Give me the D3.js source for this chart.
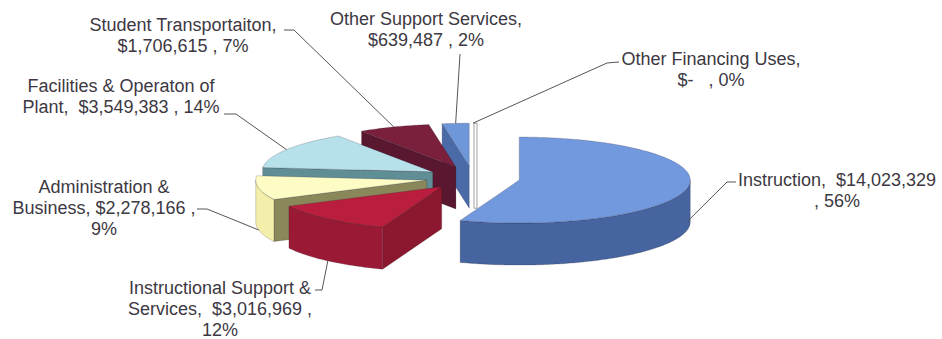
<!DOCTYPE html>
<html>
<head>
<meta charset="utf-8">
<script src="https://cdn.jsdelivr.net/npm/d3@7"></script>
<style>
  html, body { margin: 0; padding: 0; background: #fff; }
  svg { display: block; }
  text { font-family: "Liberation Sans", Arial, sans-serif; font-size: 18px; fill: #3d3842; white-space: pre; }
</style>
</head>
<body>
<svg id="chart" width="942" height="339"></svg>
<script>
// Expenditure categories, in pie order (clockwise from 12 o'clock)
const categories = [
  "Instruction",
  "Instructional Support & Services",
  "Administration & Business",
  "Facilities & Operaton of Plant",
  "Student Transportaiton",
  "Other Support Services",
  "Other Financing Uses"
];
const values = [14023329, 3016969, 2278166, 3549383, 1706615, 639487, 0];
const valueLabels = ["$14,023,329", "$3,016,969", "$2,278,166", "$3,549,383", "$1,706,615", "$639,487", "$-"];
const pctLabels = ["56%", "12%", "9%", "14%", "7%", "2%", "0%"];

// Data label text, wrapped into lines
const labelLines = [
  ["Instruction,  " + valueLabels[0], ", " + pctLabels[0]],
  ["Instructional Support &", "Services,  " + valueLabels[1] + " ,", pctLabels[1]],
  ["Administration &", "Business, " + valueLabels[2] + " ,", pctLabels[2]],
  ["Facilities & Operaton of", "Plant,  " + valueLabels[3] + " , " + pctLabels[3]],
  ["Student Transportaiton,", valueLabels[4] + " , " + pctLabels[4]],
  ["Other Support Services,", valueLabels[5] + " , " + pctLabels[5]],
  ["Other Financing Uses,", valueLabels[6] + "   , " + pctLabels[6]]
];

// Face colours: top, outer wall, radial wall
const topColors   = ["#7299de", "#b91e3e", "#fdfcc4", "#b6e1ea", "#7a1f3c", "#6e97da", "#ffffff"];
const wallColors  = ["#46649f", "#9a1a36", "#f3eeaa", "#7fb3be", "#5e1a33", "#46659f", "#ffffff"];
const sideColors  = ["#587dc0", "#8c1830", "#8a875a", "#5f8e97", "#5a1730", "#4a6aa8", "#ffffff"];

// Label layout: centre x, first baseline, leader start points, and how far down the wall the leader ends
const labelLayout = [
  { x: 837, y: 186, from: [[736, 182], [727, 182]], drop: 0.8 },
  { x: 220, y: 294, from: [[315, 290], [322, 290]], drop: 1.0 },
  { x: 104, y: 193, from: [[197, 209], [207, 209]], drop: 1.0 },
  { x: 121, y: 92,  from: [[224, 114], [236, 114]], drop: 0 },
  { x: 183, y: 31,  from: [[284, 30], [294, 30]], drop: 0 },
  { x: 426, y: 25,  from: [[460, 54]], drop: 0 },
  { x: 711, y: 65,  from: [[619, 62], [607, 63]], drop: 0 }
];

// 3-D pie geometry
const cx = 473, cy = 178, rx = 171, ry = 43, depth = 42, explode = 47;
const lineH = 21;

const svg = d3.select("#chart");

const pie = d3.pie().sort(null).value(d => d)(values);

// Project an angle (clockwise from 12 o'clock) onto the tilted ellipse
function P(a, o, z) {
  return [cx + o[0] + rx * Math.sin(a), cy + o[1] - ry * Math.cos(a) + (z || 0)];
}
function arcPts(a0, a1, o, z) {
  const n = Math.max(2, Math.ceil(Math.abs(a1 - a0) / 0.015));
  return d3.range(n + 1).map(i => P(a0 + (a1 - a0) * i / n, o, z));
}
const line = d3.line();

const slices = pie.map((p, i) => {
  const mid = (p.startAngle + p.endAngle) / 2;
  const o = [explode * Math.sin(mid), -explode * Math.cos(mid) * (ry / rx)];
  return { i, a0: p.startAngle, a1: p.endAngle, mid, o };
});

// Paint from back to front
const order = slices.slice().sort((a, b) => (-Math.cos(a.mid)) - (-Math.cos(b.mid)));

const gPie = svg.append("g");
const edge = "rgba(40,30,40,0.35)";

order.forEach(s => {
  const g = gPie.append("g");
  const apex = [cx + s.o[0], cy + s.o[1]];
  const apexB = [apex[0], apex[1] + depth];

  if (s.a1 - s.a0 < 1e-6) {
    // zero-size slice shows only as a thin wall
    const t = P(s.a0, s.o, 0);
    g.append("rect")
      .attr("x", t[0] + 1).attr("y", t[1])
      .attr("width", 3).attr("height", apexB[1] - t[1])
      .attr("fill", topColors[s.i]).attr("stroke", "#8a8a8a").attr("stroke-width", 0.8);
    return;
  }

  // radial side walls facing the viewer
  if (Math.sin(s.a0) < -1e-6) {
    const e = P(s.a0, s.o, 0), eB = P(s.a0, s.o, depth);
    g.append("path").attr("d", line([apex, e, eB, apexB]) + "Z")
      .attr("fill", sideColors[s.i]).attr("stroke", edge).attr("stroke-width", 0.6);
  }
  if (Math.sin(s.a1) > 1e-6) {
    const e = P(s.a1, s.o, 0), eB = P(s.a1, s.o, depth);
    g.append("path").attr("d", line([apex, e, eB, apexB]) + "Z")
      .attr("fill", sideColors[s.i]).attr("stroke", edge).attr("stroke-width", 0.6);
  }

  // curved outer wall, front half only
  const lo = Math.max(s.a0, Math.PI / 2), hi = Math.min(s.a1, 3 * Math.PI / 2);
  if (hi > lo) {
    const pts = arcPts(lo, hi, s.o, 0).concat(arcPts(hi, lo, s.o, depth));
    g.append("path").attr("d", line(pts) + "Z")
      .attr("fill", wallColors[s.i]).attr("stroke", edge).attr("stroke-width", 0.6);
  }

  // top face
  const top = [apex].concat(arcPts(s.a0, s.a1, s.o, 0));
  g.append("path").attr("d", line(top) + "Z")
    .attr("fill", topColors[s.i]).attr("stroke", edge).attr("stroke-width", 0.6);
});

// Leader lines
const gLead = svg.append("g");
slices.forEach(s => {
  const L = labelLayout[s.i];
  const end = P(s.mid, s.o, depth * L.drop);
  gLead.append("path")
    .attr("d", line(L.from.concat([end])))
    .attr("fill", "none").attr("stroke", "#555").attr("stroke-width", 1);
});

// Data labels
const gLab = svg.append("g");
labelLines.forEach((lines, i) => {
  const L = labelLayout[i];
  const t = gLab.append("text").attr("text-anchor", "middle");
  lines.forEach((ln, k) => {
    t.append("tspan").attr("x", L.x).attr("y", L.y + k * lineH).text(ln);
  });
});
</script>
</body>
</html>
